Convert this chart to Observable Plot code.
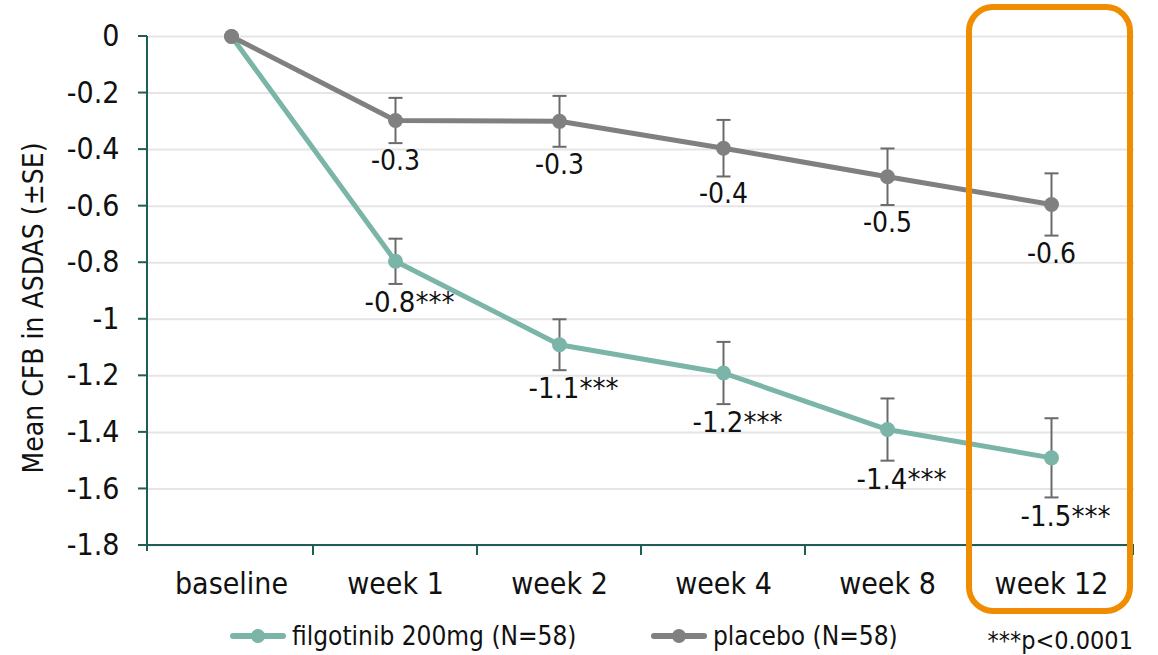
<!DOCTYPE html>
<html>
<head>
<meta charset="utf-8">
<script src="https://cdn.jsdelivr.net/npm/d3@7"></script>
<script src="https://cdn.jsdelivr.net/npm/@observablehq/plot@0.6"></script>
<style>
  html, body { margin: 0; padding: 0; background: #fff; }
  #chart { width: 1158px; }
  #legend { position: relative; width: 1158px; height: 39px; font-family: "DejaVu Sans Condensed", "DejaVu Sans", sans-serif; color: #111; }
  #legend .item { position: absolute; top: 5px; height: 30px; line-height: 30px; display: flex; align-items: center; font-size: 26px; white-space: nowrap; }
  #legend .item svg { display: block; margin-right: 5px; }
  #legend .note { position: absolute; top: 10px; right: 25px; height: 30px; line-height: 30px; font-size: 25px; white-space: nowrap; }
</style>
</head>
<body>
<div id="chart"></div>
<div id="legend"></div>
<script>
// ---- data ----
const categories = ["baseline", "week 1", "week 2", "week 4", "week 8", "week 12"];
const filgoMean = [0, -0.795, -1.09, -1.19, -1.39, -1.49];
const filgoSE = [null, 0.08, 0.09, 0.11, 0.11, 0.14];
const filgoLabels = ["", "-0.8***", "-1.1***", "-1.2***", "-1.4***", "-1.5***"];
const placeboMean = [0, -0.297, -0.30, -0.395, -0.496, -0.594];
const placeboSE = [null, 0.08, 0.09, 0.10, 0.10, 0.11];
const placeboLabels = ["", "-0.3", "-0.3", "-0.4", "-0.5", "-0.6"];
const yTicks = [0, -0.2, -0.4, -0.6, -0.8, -1, -1.2, -1.4, -1.6, -1.8];
const seriesNames = ["filgotinib 200mg (N=58)", "placebo (N=58)"];
const highlight = "week 12";
const yLabel = "Mean CFB in ASDAS (±SE)";
const footnote = "***p<0.0001";

// ---- styles ----
const colFilgo = "#7AB5A8";
const colPlacebo = "#808080";
const colErr = "#6a6a6a";
const colAxis = "#1E5E57";
const colGrid = "#e5e5e5";
const colBox = "#EF8C00";
const font = "'DejaVu Sans Condensed', 'DejaVu Sans', sans-serif";

const toRows = (means, ses, labels, series) =>
  categories.map((c, i) => ({cat: c, mean: means[i], se: ses[i], label: labels[i], series}));
const filgo = toRows(filgoMean, filgoSE, filgoLabels, seriesNames[0]);
const placebo = toRows(placeboMean, placeboSE, placeboLabels, seriesNames[1]);
const withSE = rows => rows.filter(d => d.se != null);

const cap = {draw(ctx) { ctx.moveTo(-7, 0); ctx.lineTo(7, 0); }};

function chrome(index, scales, values, dims) {
  const {x} = scales;
  const x0 = dims.marginLeft, x1 = dims.width - dims.marginRight;
  const yT = dims.marginTop, yB = dims.height - dims.marginBottom;
  const g = d3.create("svg:g");
  const ax = g.append("g").attr("stroke", colAxis).attr("stroke-width", 2).attr("fill", "none");
  ax.append("line").attr("x1", x0).attr("x2", x0).attr("y1", yT).attr("y2", yB + 6);
  for (const t of yTicks) {
    const yy = scales.y(t);
    ax.append("line").attr("x1", x0 - 9).attr("x2", x0).attr("y1", yy).attr("y2", yy);
  }
  ax.append("line").attr("x1", x0).attr("x2", x1).attr("y1", yB).attr("y2", yB);
  const bounds = categories.slice(1).map(c => x(c)).concat([x(categories[categories.length - 1]) + x.bandwidth()]);
  for (const bx of bounds) {
    ax.append("line").attr("x1", bx).attr("x2", bx).attr("y1", yB).attr("y2", yB + 10);
  }
  return g.node();
}

function box(index, scales, values, dims) {
  const {x} = scales;
  const bx = x(highlight), bw = x.bandwidth();
  const top = dims.marginTop - 29, bottom = dims.height - 5;
  const g = d3.create("svg:g");
  g.append("rect")
    .attr("x", bx).attr("y", top)
    .attr("width", bw - 3).attr("height", bottom - top)
    .attr("rx", 24).attr("ry", 24)
    .attr("fill", "none").attr("stroke", colBox).attr("stroke-width", 6);
  return g.node();
}

const plot = Plot.plot({
  width: 1158,
  height: 616,
  marginLeft: 147,
  marginRight: 24,
  marginTop: 36,
  marginBottom: 71,
  style: {fontFamily: font, fontSize: "29px", color: "#111", background: "white", overflow: "visible"},
  x: {type: "band", domain: categories, padding: 0, axis: null},
  y: {domain: [-1.8, 0], axis: null},
  marks: [
    Plot.ruleY(yTicks, {stroke: colGrid, strokeWidth: 2}),
    chrome,
    Plot.axisY({ticks: yTicks, tickSize: 0, tickPadding: 28, tickFormat: d => String(d), label: null, fill: "#111", fontSize: 30}),
    Plot.axisX({tickSize: 0, tickPadding: 27, label: null, fontSize: 30, fill: "#111"}),
    Plot.text([yLabel], {frameAnchor: "left", text: d => d, rotate: -90, textAnchor: "middle", dx: -113, dy: 17, fill: "#111", fontSize: 28}),
    Plot.line(filgo, {x: "cat", y: "mean", stroke: colFilgo, strokeWidth: 5}),
    Plot.line(placebo, {x: "cat", y: "mean", stroke: colPlacebo, strokeWidth: 5}),
    Plot.ruleX(withSE(filgo).concat(withSE(placebo)), {x: "cat", y1: d => d.mean - d.se, y2: d => d.mean + d.se, stroke: colErr, strokeWidth: 2}),
    Plot.dot(withSE(filgo).concat(withSE(placebo)), {x: "cat", y: d => d.mean - d.se, symbol: cap, r: 5, stroke: colErr, strokeWidth: 2, fill: "none"}),
    Plot.dot(withSE(filgo).concat(withSE(placebo)), {x: "cat", y: d => d.mean + d.se, symbol: cap, r: 5, stroke: colErr, strokeWidth: 2, fill: "none"}),
    Plot.dot(filgo, {x: "cat", y: "mean", r: 7.5, fill: colFilgo}),
    Plot.dot(placebo, {x: "cat", y: "mean", r: 7.5, fill: colPlacebo}),
    Plot.text(withSE(placebo), {x: "cat", y: d => d.mean - d.se, text: "label", dy: 18, fill: "#111", fontSize: 28}),
    Plot.text(withSE(filgo), {x: "cat", y: d => d.mean - d.se, text: "label", dy: 19, dx: 14, fill: "#111", fontSize: 29}),
    box
  ]
});
document.getElementById("chart").appendChild(plot);

// ---- legend ----
const legend = d3.select("#legend");
const items = [
  {name: seriesNames[0], color: colFilgo, left: 229},
  {name: seriesNames[1], color: colPlacebo, left: 650}
];
for (const it of items) {
  const div = legend.append("div").attr("class", "item").style("left", it.left + "px");
  const s = div.append("svg").attr("width", 58).attr("height", 20);
  s.append("line").attr("x1", 4).attr("x2", 54).attr("y1", 10).attr("y2", 10)
    .attr("stroke", it.color).attr("stroke-width", 6).attr("stroke-linecap", "round");
  s.append("circle").attr("cx", 29).attr("cy", 10).attr("r", 7).attr("fill", it.color);
  div.append("span").text(it.name);
}
legend.append("div").attr("class", "note").text(footnote);
</script>
</body>
</html>
